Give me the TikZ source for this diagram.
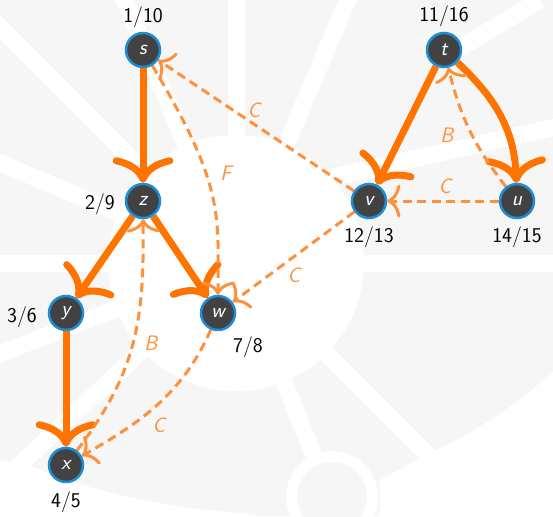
\documentclass[tikz,border=0pt]{standalone}
\usepackage{fontspec}
\usetikzlibrary{arrows.meta}
\definecolor{bggray}{HTML}{F6F6F6}
\definecolor{treeorange}{HTML}{FF7300}
\definecolor{backorange}{HTML}{FF913D}
\definecolor{vfill}{HTML}{424242}
\definecolor{vblue}{HTML}{1B8ED6}
\pgfdeclarelayer{bgmap}
\pgfdeclarelayer{edges}
\pgfsetlayers{bgmap,edges,main}
\begin{document}
\begin{tikzpicture}[x=1pt,y=1pt,
  vertex/.style={circle, fill=vfill, draw=vblue, line width=2.5pt, minimum size=34pt, inner sep=0pt, text=white, font=\sffamily\itshape\fontsize{21}{21}\selectfont},
  stamp/.style={anchor=base, inner sep=0pt, font=\sffamily\fontsize{21}{21}\selectfont},
  tree/.style={treeorange, line width=7pt, -{Computer Modern Rightarrow[scale length=1.5,scale width=1.7]}},
  back/.style={backorange, line width=3pt, dash pattern=on 9pt off 5.5pt, -{Computer Modern Rightarrow[scale length=1.6,scale width=1.9]}},
  elabel/.style={inner sep=0pt, text=backorange, font=\sffamily\itshape\fontsize{21}{21}\selectfont},
  road/.style={white, line width=17pt},
]
\useasboundingbox (0,0) rectangle (553,-516);
\begin{pgfonlayer}{bgmap}
\fill[bggray] (0,0) rectangle (553,-516);
\fill[white] (553,-372) .. controls (510,-410) and (470,-435) .. (432,-452) -- (380,-480) -- (380,-516) -- (553,-516) -- cycle;
\fill[white] (0,-460) -- (36,-468) .. controls (100,-495) and (180,-510) .. (255,-514) -- (255,-516) -- (0,-516) -- cycle;
\foreach \a in {0,67,90,113,135,157,180,201,223,292,315}
  \draw[road] (236,-263) -- ++(\a:420);
\draw[road] (320,-180) -- (560,-126);
\draw[road] (440,-60) -- (540,0);
\fill[white] (236,-263) circle (128);
\fill[white] (332,-497) circle (46);
\fill[bggray] (332,-497) circle (35);
\end{pgfonlayer}

\node[vertex] (s) at (143,-50) {s};
\node[vertex] (t) at (444,-50) {t};
\node[vertex] (z) at (143,-201) {z};
\node[vertex] (v) at (369,-201) {v};
\node[vertex] (u) at (517,-201) {u};
\node[vertex] (y) at (66,-313) {y};
\node[vertex] (w) at (218,-313) {w};
\node[vertex] (x) at (66,-465) {x};

\node[stamp] (ls) at (143,-23) {1/10};
\node[stamp] (lt) at (444,-22) {11/16};
\node[stamp] (lz) at (100,-209) {2/9};
\node[stamp] (ly) at (22,-322) {3/6};
\node[stamp] (lw) at (248,-352) {7/8};
\node[stamp] (lx) at (66,-507) {4/5};
\node[stamp] (lv) at (369,-242) {12/13};
\node[stamp] (lu) at (517,-242) {14/15};

\begin{pgfonlayer}{edges}
\draw[tree] (s) -- (z);
\draw[tree] (z) -- (y);
\draw[tree] (z) -- (w);
\draw[tree] (y) -- (x);
\draw[tree] (t) -- (v);
\draw[tree] (t) to[out=-43, in=92] (u);
\draw[back] (v) -- (s);
\draw[back] (s) .. controls (225,-187) and (218,-215) .. (w);
\draw[back] (v) -- (w);
\draw[back] (x) .. controls (138,-370) and (144,-319) .. (z);
\draw[back] (w) .. controls (182,-396) and (136,-425) .. (x);
\draw[back] (u) to[bend left=12] (t);
\draw[back] (u) -- (v);
\end{pgfonlayer}

\node[elabel] (c1) at (254,-110) {C};
\node[elabel] (f1) at (226,-173) {F};
\node[elabel] (c2) at (294,-275) {C};
\node[elabel] (b1) at (151,-343) {B};
\node[elabel] (c3) at (159,-425) {C};
\node[elabel] (b2) at (447,-135) {B};
\node[elabel] (c4) at (445,-186) {C};
\end{tikzpicture}
\end{document}
